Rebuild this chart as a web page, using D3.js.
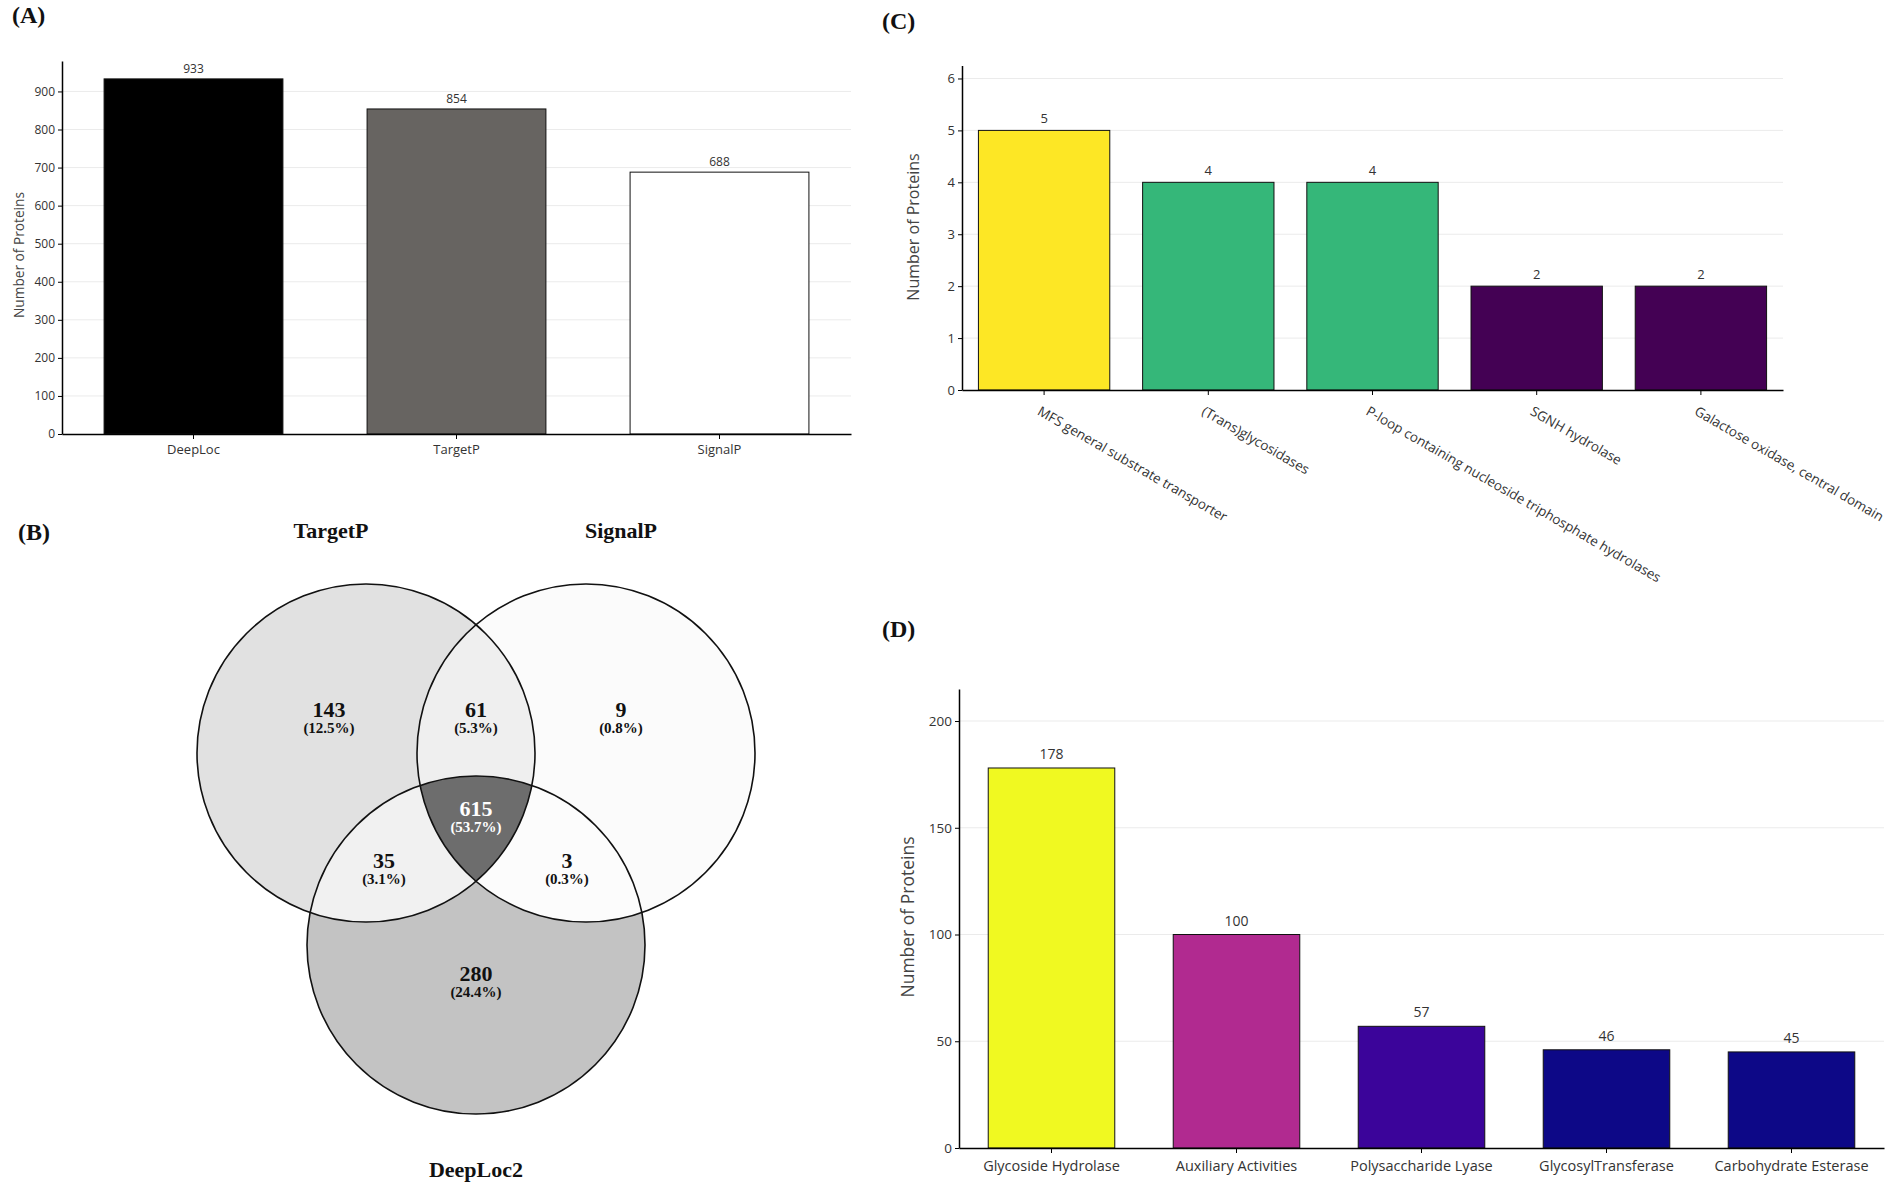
<!DOCTYPE html>
<html><head><meta charset="utf-8">
<script src="https://cdn.jsdelivr.net/npm/d3@7"></script>
<style>
body{margin:0;background:#fff}
svg{display:block}
</style></head><body>
<svg id="fig" width="1902" height="1189"></svg>
<script>
// ---------- DATA ----------
const aCategories = ["DeepLoc", "TargetP", "SignalP"];
const aValues = [933, 854, 688];
const aTicks = [0, 100, 200, 300, 400, 500, 600, 700, 800, 900];

const cCategories = ["MFS general substrate transporter", "(Trans)glycosidases",
  "P-loop containing nucleoside triphosphate hydrolases", "SGNH hydrolase",
  "Galactose oxidase, central domain"];
const cValues = [5, 4, 4, 2, 2];
const cTicks = [0, 1, 2, 3, 4, 5, 6];

const dCategories = ["Glycoside Hydrolase", "Auxiliary Activities", "Polysaccharide Lyase",
  "GlycosylTransferase", "Carbohydrate Esterase"];
const dValues = [178, 100, 57, 46, 45];
const dTicks = [0, 50, 100, 150, 200];

const vennSets = ["TargetP", "SignalP", "DeepLoc2"];
const vennRegions = ["T", "S", "D", "TS", "TD", "SD", "TSD"];
const vennValues = [143, 9, 280, 61, 35, 3, 615];

// ---------- STYLE ----------
const aColors = ["#000000", "#676461", "#ffffff"];
const cColors = ["#FDE725", "#35B779", "#35B779", "#440154", "#440154"];
const dColors = ["#F0F921", "#B12A90", "#3B049A", "#0D0887", "#0D0887"];
const SANS = "'Open Sans', 'DejaVu Sans', sans-serif";
const SERIF = "'Liberation Serif', 'Times New Roman', serif";

const svg = d3.select("#fig");
svg.append("rect").attr("width", 1902).attr("height", 1189).attr("fill", "#fff");

function barChart(o) {
  const g = svg.append("g");
  const x = d3.scaleBand().domain(o.cats).range([o.x0, o.x1])
    .paddingInner(o.pad).paddingOuter(o.pad / 2);
  const y = d3.scaleLinear().domain([0, o.ymax]).range([o.y0, o.y1]);
  // grid
  g.selectAll("line.grid").data(o.ticks.filter(t => t > 0)).join("line")
    .attr("x1", o.x0).attr("x2", o.x1)
    .attr("y1", d => y(d)).attr("y2", d => y(d))
    .attr("stroke", "#ebebeb").attr("stroke-width", 1);
  // bars
  g.selectAll("rect.bar").data(o.vals).join("rect")
    .attr("x", (d, i) => x(o.cats[i])).attr("width", x.bandwidth())
    .attr("y", d => y(d)).attr("height", d => y(0) - y(d))
    .attr("fill", (d, i) => o.colors[i]).attr("stroke", "#111").attr("stroke-width", 1);
  // value labels
  g.selectAll("text.val").data(o.vals).join("text")
    .attr("x", (d, i) => x(o.cats[i]) + x.bandwidth() / 2)
    .attr("y", d => y(d) - o.valOff)
    .attr("text-anchor", "middle")
    .attr("font-family", SANS).attr("font-size", o.valFs).attr("fill", "#333")
    .text(d => d);
  // y axis
  const ya = g.append("g").attr("transform", `translate(${o.x0},0)`)
    .call(d3.axisLeft(y).tickValues(o.ticks).tickFormat(d3.format("d"))
      .tickSize(4).tickSizeOuter(0).tickPadding(3));
  ya.select(".domain").attr("stroke", "#000").attr("stroke-width", 1.5);
  ya.selectAll(".tick line").attr("stroke", "#000");
  ya.selectAll(".tick text").attr("font-family", SANS).attr("font-size", o.tickFs).attr("fill", "#333");
  // x axis
  const xa = g.append("g").attr("transform", `translate(0,${o.y0})`)
    .call(d3.axisBottom(x).tickSize(5).tickSizeOuter(0).tickPadding(o.xPad));
  xa.select(".domain").attr("stroke", "#000").attr("stroke-width", 1.5);
  xa.selectAll(".tick line").attr("stroke", "#000");
  const xt = xa.selectAll(".tick text").attr("font-family", SANS)
    .attr("font-size", o.xFs).attr("fill", "#333");
  if (o.rotate) {
    xt.attr("text-anchor", "start").attr("y", 0).attr("x", 0).attr("dy", "0")
      .attr("transform", `translate(-7.5,24) rotate(${o.rotate})`);
  }
  // y title
  g.append("text")
    .attr("transform", `translate(${o.titleX},${o.titleY}) rotate(-90)`)
    .attr("text-anchor", "middle").attr("dominant-baseline", "central")
    .attr("font-family", SANS).attr("font-size", o.titleFs).attr("fill", "#444")
    .text("Number of Proteins");
}

barChart({cats: aCategories, vals: aValues, ticks: aTicks, colors: aColors,
  x0: 62, x1: 851, y0: 434, y1: 61, ymax: 980, pad: 0.32,
  valOff: 6, valFs: 12, tickFs: 12, xFs: 13, xPad: 6,
  titleX: 18, titleY: 255, titleFs: 13.7});

barChart({cats: cCategories, vals: cValues, ticks: cTicks, colors: cColors,
  x0: 962, x1: 1783, y0: 390, y1: 65.5, ymax: 6.25, pad: 0.2,
  valOff: 7, valFs: 13, tickFs: 13, xFs: 13.5, xPad: 6, rotate: 30,
  titleX: 913, titleY: 227, titleFs: 16});

barChart({cats: dCategories, vals: dValues, ticks: dTicks, colors: dColors,
  x0: 959, x1: 1884, y0: 1148, y1: 689, ymax: 215, pad: 0.316,
  valOff: 9, valFs: 14, tickFs: 13.5, xFs: 14.5, xPad: 8,
  titleX: 907, titleY: 917, titleFs: 17.5});

// ---------- VENN ----------
const venn = {cx: 476, top: 753, dx: 110, dy: 192, r: 169};
const centers = {
  T: [venn.cx - venn.dx, venn.top],
  S: [venn.cx + venn.dx, venn.top],
  D: [venn.cx, venn.top + venn.dy]
};
const regionFill = {T: "#e1e1e1", S: "#fbfbfb", D: "#c3c3c3", TS: "#efefef",
  TD: "#f1f1f1", SD: "#fcfcfc", TSD: "#6d6d6d"};
const defs = svg.append("defs");
["T", "S", "D"].forEach(k => {
  defs.append("clipPath").attr("id", "clip" + k).append("circle")
    .attr("cx", centers[k][0]).attr("cy", centers[k][1]).attr("r", venn.r);
});
const vg = svg.append("g");
function circ(parent, k, fill) {
  parent.append("circle").attr("cx", centers[k][0]).attr("cy", centers[k][1])
    .attr("r", venn.r).attr("fill", fill);
}
["T", "S", "D"].forEach(k => circ(vg, k, regionFill[k]));
circ(vg.append("g").attr("clip-path", "url(#clipT)"), "S", regionFill.TS);
circ(vg.append("g").attr("clip-path", "url(#clipT)"), "D", regionFill.TD);
circ(vg.append("g").attr("clip-path", "url(#clipS)"), "D", regionFill.SD);
circ(vg.append("g").attr("clip-path", "url(#clipT)").append("g").attr("clip-path", "url(#clipS)"), "D", regionFill.TSD);
["T", "S", "D"].forEach(k => {
  vg.append("circle").attr("cx", centers[k][0]).attr("cy", centers[k][1])
    .attr("r", venn.r).attr("fill", "none").attr("stroke", "#111").attr("stroke-width", 1.6);
});
// region label anchor positions (layout)
const labelPos = {
  T: [centers.T[0] - 37, centers.T[1] - 44],
  S: [centers.S[0] + 35, centers.S[1] - 44],
  D: [centers.D[0], centers.D[1] + 28],
  TS: [venn.cx, centers.T[1] - 44],
  TD: [venn.cx - 92, centers.T[1] + 107],
  SD: [venn.cx + 91, centers.T[1] + 107],
  TSD: [venn.cx, centers.T[1] + 55]
};
const total = d3.sum(vennValues);
vennRegions.forEach((k, i) => {
  const [lx, ly] = labelPos[k];
  const col = k === "TSD" ? "#fff" : "#111";
  vg.append("text").attr("x", lx).attr("y", ly + 8).attr("text-anchor", "middle")
    .attr("font-family", SERIF).attr("font-weight", "bold").attr("font-size", 22)
    .attr("fill", col).text(vennValues[i]);
  vg.append("text").attr("x", lx).attr("y", ly + 24).attr("text-anchor", "middle")
    .attr("font-family", SERIF).attr("font-weight", "bold").attr("font-size", 15)
    .attr("fill", col).text("(" + (vennValues[i] / total * 100).toFixed(1) + "%)");
});
// set names
const setLabelPos = [[centers.T[0] - 35, 538], [centers.S[0] + 35, 538], [centers.D[0], 1177]];
vennSets.forEach((s, i) => {
  vg.append("text").attr("x", setLabelPos[i][0]).attr("y", setLabelPos[i][1])
    .attr("text-anchor", "middle").attr("font-family", SERIF).attr("font-weight", "bold")
    .attr("font-size", 22).attr("fill", "#111").text(s);
});

// ---------- PANEL LETTERS ----------
const panels = [["(A)", 12, 23], ["(B)", 18, 540], ["(C)", 882, 29], ["(D)", 882, 637]];
panels.forEach(p => svg.append("text").attr("x", p[1]).attr("y", p[2])
  .attr("font-family", SERIF).attr("font-weight", "bold").attr("font-size", 24)
  .attr("fill", "#111").text(p[0]));
</script>
</body></html>
